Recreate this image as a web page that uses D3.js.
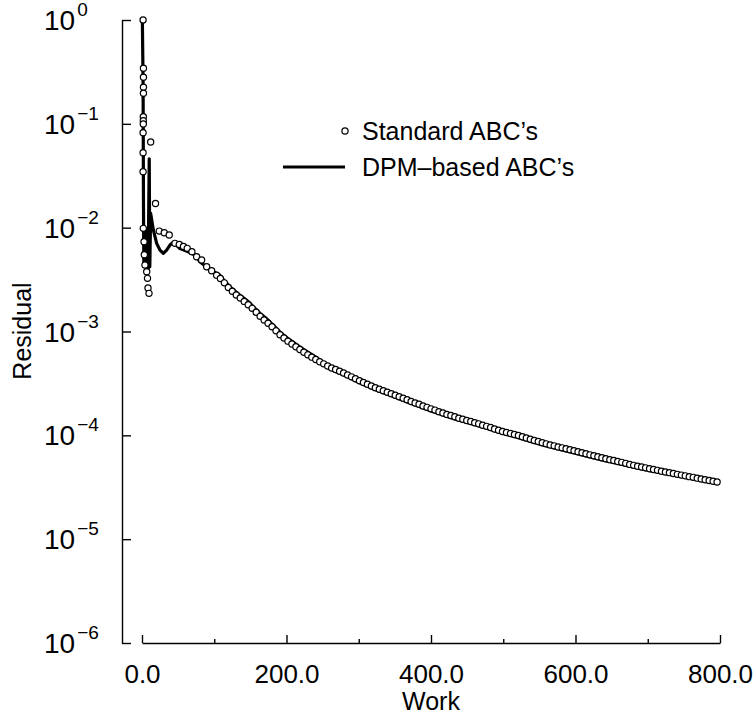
<!DOCTYPE html>
<html>
<head>
<meta charset="utf-8">
<script src="https://cdn.jsdelivr.net/npm/d3@7"></script>
<style>
  body { margin: 0; background: #fff; }
  svg text { font-family: "Liberation Sans", Arial, Helvetica, sans-serif; fill: #000; }
</style>
</head>
<body>
<svg id="chart" width="756" height="716"></svg>
<script>
// residual history (work units vs residual)
var stdWork = [1.5, 2.0, 2.0, 2.0, 2.0, 1.8, 1.8, 1.8, 1.5, 1.5, 1.5,
  1.8, 2.8, 3.2, 4.1, 6.5, 7.6, 8.3, 9.7, 12.0, 18.7,
  23.9, 30.8, 37.7, 45.6, 51.6, 57.4, 62.6, 69.1, 75.6, 82.5, 89.5, 96.4, 103.3,
  108.5, 114, 119.5, 125, 130.5, 136, 141.5, 147, 152.5, 158,
  163.5, 169, 174.5, 180, 185.5, 191, 196.5, 202, 207.5, 213,
  218.5, 224, 229.5, 235, 240.5, 246, 251.5, 257, 262.5, 268,
  273.5, 279, 284.5, 290, 295.5, 301, 306.5, 312, 317.5, 323,
  328.5, 334, 339.5, 345, 350.5, 356, 361.5, 367, 372.5, 378,
  383.5, 389, 394.5, 400, 405.5, 411, 416.5, 422, 427.5, 433,
  438.5, 444, 449.5, 455, 460.5, 466, 471.5, 477, 482.5, 488,
  493.5, 499, 504.5, 510, 515.5, 521, 526.5, 532, 537.5, 543,
  548.5, 554, 559.5, 565, 570.5, 576, 581.5, 587, 592.5, 598,
  603.5, 609, 614.5, 620, 625.5, 631, 636.5, 642, 647.5, 653,
  658.5, 664, 669.5, 675, 680.5, 686, 691.5, 697, 702.5, 708,
  713.5, 719, 724.5, 730, 735.5, 741, 746.5, 752, 757.5, 763,
  768.5, 774, 779.5, 785, 790.5, 796];
var stdResidual = [1.0, 0.343, 0.281, 0.225, 0.197, 0.117, 0.107, 0.0995, 0.082, 0.0527, 0.0346,
  9.85e-3, 7.31e-3, 5.5e-3, 4.36e-3, 3.76e-3, 3.25e-3, 2.63e-3, 2.33e-3, 0.0668, 0.0171,
  9.27e-3, 8.93e-3, 8.49e-3, 7.06e-3, 6.9e-3, 6.6e-3, 6.32e-3, 5.86e-3, 5.25e-3, 4.88e-3, 4.2e-3, 3.85e-3, 3.49e-3,
  3.24e-3, 2.94e-3, 2.65e-3, 2.44e-3, 2.25e-3, 2.10e-3, 1.95e-3, 1.81e-3, 1.67e-3, 1.53e-3,
  1.40e-3, 1.29e-3, 1.20e-3, 1.11e-3, 1.015e-3, 9.31e-4, 8.66e-4, 8.07e-4, 7.58e-4, 7.12e-4,
  6.70e-4, 6.32e-4, 5.96e-4, 5.66e-4, 5.37e-4, 5.12e-4, 4.88e-4, 4.66e-4, 4.46e-4, 4.30e-4,
  4.14e-4, 3.98e-4, 3.82e-4, 3.66e-4, 3.51e-4, 3.36e-4, 3.23e-4, 3.11e-4, 2.99e-4, 2.88e-4,
  2.78e-4, 2.69e-4, 2.60e-4, 2.52e-4, 2.43e-4, 2.35e-4, 2.28e-4, 2.20e-4, 2.12e-4, 2.05e-4,
  1.99e-4, 1.92e-4, 1.86e-4, 1.80e-4, 1.75e-4, 1.69e-4, 1.64e-4, 1.59e-4, 1.55e-4, 1.51e-4,
  1.46e-4, 1.43e-4, 1.39e-4, 1.36e-4, 1.32e-4, 1.29e-4, 1.25e-4, 1.22e-4, 1.19e-4, 1.15e-4,
  1.12e-4, 1.09e-4, 1.066e-4, 1.04e-4, 1.02e-4, 9.95e-5, 9.68e-5, 9.42e-5, 9.17e-5, 8.93e-5,
  8.71e-5, 8.49e-5, 8.28e-5, 8.09e-5, 7.92e-5, 7.74e-5, 7.58e-5, 7.42e-5, 7.26e-5, 7.10e-5,
  6.95e-5, 6.79e-5, 6.64e-5, 6.49e-5, 6.35e-5, 6.21e-5, 6.08e-5, 5.95e-5, 5.83e-5, 5.72e-5,
  5.60e-5, 5.49e-5, 5.37e-5, 5.25e-5, 5.14e-5, 5.05e-5, 4.95e-5, 4.86e-5, 4.77e-5, 4.69e-5,
  4.60e-5, 4.52e-5, 4.44e-5, 4.37e-5, 4.29e-5, 4.21e-5, 4.14e-5, 4.07e-5, 4.00e-5, 3.94e-5,
  3.87e-5, 3.80e-5, 3.74e-5, 3.67e-5, 3.61e-5, 3.55e-5];

var dpmWork = [0.5, 1.5, 2.0, 2.5, 3.5, 4.5, 5.5, 6.5, 7.5, 8.5, 10.0, 10.8, 12.0,
  15.7, 20.3, 24.9, 29.5, 34.1, 38.7, 42.4, 46.5, 52.5, 58, 64, 70, 75.6, 80.2, 87, 94,
  101, 107.8, 114.5, 121.7, 128.5, 135.5, 142.5, 149.3, 156, 163.1, 170, 176.9, 184,
  190.8, 197.5, 204.6, 211.5, 218.4, 225.5, 232.3, 243.3, 250, 260, 280, 300, 320, 340,
  360, 380, 400, 420, 440, 460, 480, 500, 520, 540, 560, 580, 600, 620, 640, 660, 680,
  700, 720, 740, 760, 780, 798];
var dpmResidual = [1.0, 0.25, 0.02, 0.0045, 0.0085, 0.0042, 0.0095, 0.0041, 0.0075, 0.0040, 0.046, 0.0042, 0.0137,
  0.0095, 0.00706, 0.00608, 0.00565, 0.00608, 0.0068, 0.00716, 0.0069, 0.0063, 0.0061, 0.00586, 0.0056, 0.00525, 0.00469, 0.0043, 0.0039,
  0.0037, 0.00349, 0.00305, 0.0027, 0.00245, 0.00224, 0.00205, 0.00188, 0.00168, 0.0015, 0.00137, 0.00124, 0.00111,
  9.9e-4, 9.05e-4, 8.3e-4, 7.7e-4, 7.1e-4, 6.6e-4, 6.15e-4, 5.5e-4, 5.05e-4, 4.34e-4, 3.78e-4, 3.24e-4, 2.80e-4, 2.48e-4,
  2.19e-4, 1.94e-4, 1.72e-4, 1.54e-4, 1.39e-4, 1.27e-4, 1.15e-4, 1.04e-4, 9.55e-5, 8.65e-5, 7.89e-5, 7.28e-5, 6.73e-5, 6.19e-5, 5.73e-5, 5.32e-5, 4.94e-5,
  4.62e-5, 4.35e-5, 4.08e-5, 3.85e-5, 3.63e-5, 3.44e-5];

var xMajor = [0, 200, 400, 600, 800];
var xMinor = [100, 300, 500, 700];
var yExponents = [0, -1, -2, -3, -4, -5, -6];
var seriesNames = ["Standard ABC\u2019s", "DPM\u2013based ABC\u2019s"];

var svg = d3.select("#chart");

var x = d3.scaleLinear().domain([0, 800]).range([142, 720]);
var y = d3.scaleLog().domain([1e-6, 1]).range([643, 20]);

// x axis, ticks pointing up
var xAxis = svg.append("g")
    .attr("transform", "translate(0,643)")
    .call(d3.axisBottom(x).tickValues(xMajor).tickSizeInner(-8).tickSizeOuter(0)
        .tickFormat(d3.format(".1f")));
xAxis.selectAll("text")
    .attr("y", 40).attr("dy", null)
    .style("font-size", "26px");
svg.append("g")
    .attr("transform", "translate(0,643)")
    .call(d3.axisBottom(x).tickValues(xMinor).tickSizeInner(-4).tickSizeOuter(0).tickFormat(""))
    .select(".domain").remove();

// y axis, ticks pointing right
var yAxis = svg.append("g")
    .attr("transform", "translate(122,0)")
    .call(d3.axisLeft(y).tickValues(yExponents.map(function(e) { return Math.pow(10, e); }))
        .tickSizeInner(-9).tickSizeOuter(0).tickFormat(""));
yAxis.selectAll(".tick text").remove();

svg.selectAll("path.domain, .tick line")
    .attr("stroke", "#000").attr("stroke-width", 1.4);

var ylab = svg.append("g").selectAll("text")
    .data(yExponents)
    .enter().append("text")
    .attr("x", 44)
    .attr("y", function(d) { return y(Math.pow(10, d)) + 10; })
    .style("font-size", "28px");
ylab.append("tspan").text("10");
ylab.append("tspan")
    .attr("dy", -14)
    .attr("dx", 2)
    .style("font-size", "19px")
    .text(function(d) { return d === 0 ? "0" : "\u2212" + (-d); });

svg.append("text")
    .attr("x", 431).attr("y", 710)
    .attr("text-anchor", "middle")
    .style("font-size", "25px")
    .text("Work");

svg.append("text")
    .attr("transform", "translate(31,331) rotate(-90)")
    .attr("text-anchor", "middle")
    .style("font-size", "25px")
    .text("Residual");

// DPM line
var line = d3.line()
    .x(function(d) { return x(d[0]); })
    .y(function(d) { return y(d[1]); });

svg.append("path")
    .datum(d3.zip(dpmWork, dpmResidual))
    .attr("d", line)
    .attr("fill", "none")
    .attr("stroke", "#000")
    .attr("stroke-width", 3.2)
    .attr("stroke-linejoin", "round");

// standard ABC circles on top
svg.append("g").selectAll("circle")
    .data(d3.zip(stdWork, stdResidual))
    .enter().append("circle")
    .attr("cx", function(d) { return x(d[0]); })
    .attr("cy", function(d) { return y(d[1]); })
    .attr("r", 3.1)
    .attr("fill", "#fff")
    .attr("stroke", "#000")
    .attr("stroke-width", 1.2);

// legend
var legend = svg.append("g");
legend.append("circle")
    .attr("cx", 345).attr("cy", 131).attr("r", 3.1)
    .attr("fill", "#fff").attr("stroke", "#000").attr("stroke-width", 1.2);
legend.append("line")
    .attr("x1", 283).attr("x2", 345).attr("y1", 167).attr("y2", 167)
    .attr("stroke", "#000").attr("stroke-width", 3);
legend.selectAll("text")
    .data(seriesNames)
    .enter().append("text")
    .attr("x", 362)
    .attr("y", function(d, i) { return 140 + i * 36; })
    .style("font-size", "25px")
    .text(function(d) { return d; });
</script>
</body>
</html>
